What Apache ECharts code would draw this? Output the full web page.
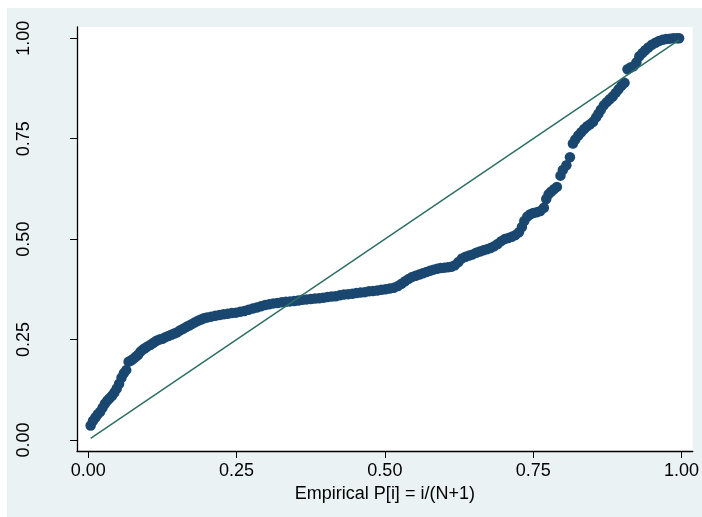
<!DOCTYPE html>
<html>
<head>
<meta charset="utf-8">
<script src="https://cdn.jsdelivr.net/npm/echarts@6/dist/echarts.min.js"></script>
<style>
html,body{margin:0;padding:0;background:#ffffff;}
#chart{width:702px;height:517px;}
</style>
</head>
<body>
<div id="chart"></div>
<script>
// Empirical P[i] (x) and Normal F[(x-m)/s] (y)
const empiricalP = [
0.004,0.008,0.012,0.016,0.020,0.024,0.028,0.032,0.036,0.040,0.044,0.048,0.052,0.056,0.060,0.064,0.068,0.072,0.076,0.080,
0.084,0.088,0.092,0.096,0.100,0.105,0.110,0.115,0.120,0.125,0.130,0.135,0.140,0.145,0.150,0.155,0.160,0.165,0.170,0.175,
0.180,0.185,0.190,0.195,0.200,0.207,0.214,0.221,0.228,0.235,0.242,0.249,0.256,0.263,0.270,0.277,0.284,0.291,0.298,0.305,
0.312,0.319,0.326,0.333,0.340,0.347,0.354,0.361,0.368,0.375,0.382,0.389,0.396,0.403,0.410,0.417,0.424,0.431,0.438,0.445,
0.452,0.459,0.466,0.473,0.480,0.487,0.494,0.501,0.508,0.515,0.522,0.528,0.534,0.540,0.546,0.552,0.558,0.564,0.570,0.576,
0.582,0.588,0.594,0.600,0.606,0.612,0.618,0.624,0.630,0.636,0.642,0.648,0.654,0.660,0.666,0.672,0.678,0.684,0.690,0.696,
0.702,0.708,0.714,0.720,0.726,0.731,0.735,0.740,0.745,0.750,0.756,0.762,0.768,0.772,0.776,0.780,0.785,0.790,0.796,0.800,
0.806,0.812,0.817,0.821,0.826,0.831,0.836,0.841,0.846,0.851,0.856,0.860,0.864,0.869,0.874,0.879,0.884,0.889,0.894,0.899,
0.904,0.909,0.914,0.919,0.924,0.929,0.934,0.939,0.944,0.950,0.956,0.962,0.968,0.974,0.980,0.986,0.992,0.996
];
const normalF = [
0.036,0.048,0.056,0.064,0.070,0.080,0.090,0.098,0.104,0.110,0.118,0.128,0.140,0.155,0.166,0.174,0.195,0.198,0.202,0.207,
0.212,0.220,0.225,0.229,0.233,0.237,0.242,0.247,0.250,0.252,0.256,0.259,0.262,0.265,0.268,0.273,0.277,0.281,0.285,0.289,
0.293,0.297,0.300,0.303,0.305,0.307,0.309,0.311,0.313,0.314,0.316,0.317,0.319,0.321,0.324,0.327,0.330,0.333,0.336,0.338,
0.340,0.341,0.343,0.344,0.345,0.346,0.347,0.349,0.350,0.351,0.352,0.353,0.354,0.356,0.357,0.358,0.360,0.362,0.363,0.364,
0.366,0.367,0.368,0.370,0.371,0.372,0.374,0.375,0.377,0.379,0.383,0.389,0.395,0.401,0.406,0.409,0.412,0.415,0.418,0.421,
0.424,0.426,0.428,0.429,0.430,0.431,0.435,0.443,0.452,0.456,0.459,0.462,0.466,0.469,0.472,0.475,0.478,0.482,0.488,0.495,
0.500,0.503,0.506,0.510,0.517,0.530,0.545,0.556,0.562,0.565,0.567,0.570,0.578,0.600,0.612,0.618,0.624,0.630,0.658,0.672,
0.684,0.704,0.738,0.748,0.758,0.766,0.774,0.781,0.786,0.792,0.803,0.812,0.822,0.833,0.841,0.848,0.855,0.864,0.873,0.882,
0.889,0.923,0.927,0.930,0.940,0.955,0.963,0.970,0.977,0.984,0.989,0.993,0.996,0.998,0.999,1.000,1.000,1.000
];
const refLine = [[0.004,0.004],[0.996,0.996]];
const tickValues = [0, 0.25, 0.5, 0.75, 1];
const xTitle = 'Empirical P[i] = i/(N+1)';

const pts = empiricalP.map((p,i)=>[p, normalF[i]]);
const chart = echarts.init(document.getElementById('chart'), null, {renderer:'canvas'});
const fmt = v => v.toFixed(2);
const FONT = 'Liberation Sans, Arial, Helvetica, sans-serif';
chart.setOption({
  animation:false,
  backgroundColor:'transparent',
  graphic:[{type:'rect', z:-10, left:7, top:8, shape:{width:695, height:509}, style:{fill:'#eaf2f3'}}],
  grid:{left:77, right:9, top:27, bottom:66, show:true, backgroundColor:'#ffffff', borderWidth:0},
  xAxis:{
    type:'value', min:-0.019, max:1.019,
    name:xTitle, nameLocation:'middle', nameGap:30,
    nameTextStyle:{color:'#000', fontSize:18, fontFamily:FONT},
    axisLine:{show:true, onZero:false, lineStyle:{color:'#000', width:1.3}},
    axisTick:{show:true, length:7, lineStyle:{color:'#000', width:1}, customValues:tickValues},
    axisLabel:{color:'#000', fontSize:18, fontFamily:FONT, margin:11, formatter:fmt, customValues:tickValues},
    splitLine:{show:false}
  },
  yAxis:{
    type:'value', min:-0.0274, max:1.028,
    axisLine:{show:true, onZero:false, lineStyle:{color:'#000', width:1.3}},
    axisTick:{show:true, length:7, lineStyle:{color:'#000', width:1}, customValues:tickValues},
    axisLabel:{color:'#000', fontSize:18, fontFamily:FONT, margin:44, rotate:90, formatter:fmt, customValues:tickValues},
    splitLine:{show:false}
  },
  series:[
    {type:'scatter', data:pts, symbol:'circle', symbolSize:10.5, itemStyle:{color:'#1a476f', opacity:1}, z:2},
    {type:'line', data:refLine, symbol:'none', lineStyle:{color:'#2e6f62', width:1.5}, z:3}
  ]
});
</script>
</body>
</html>
